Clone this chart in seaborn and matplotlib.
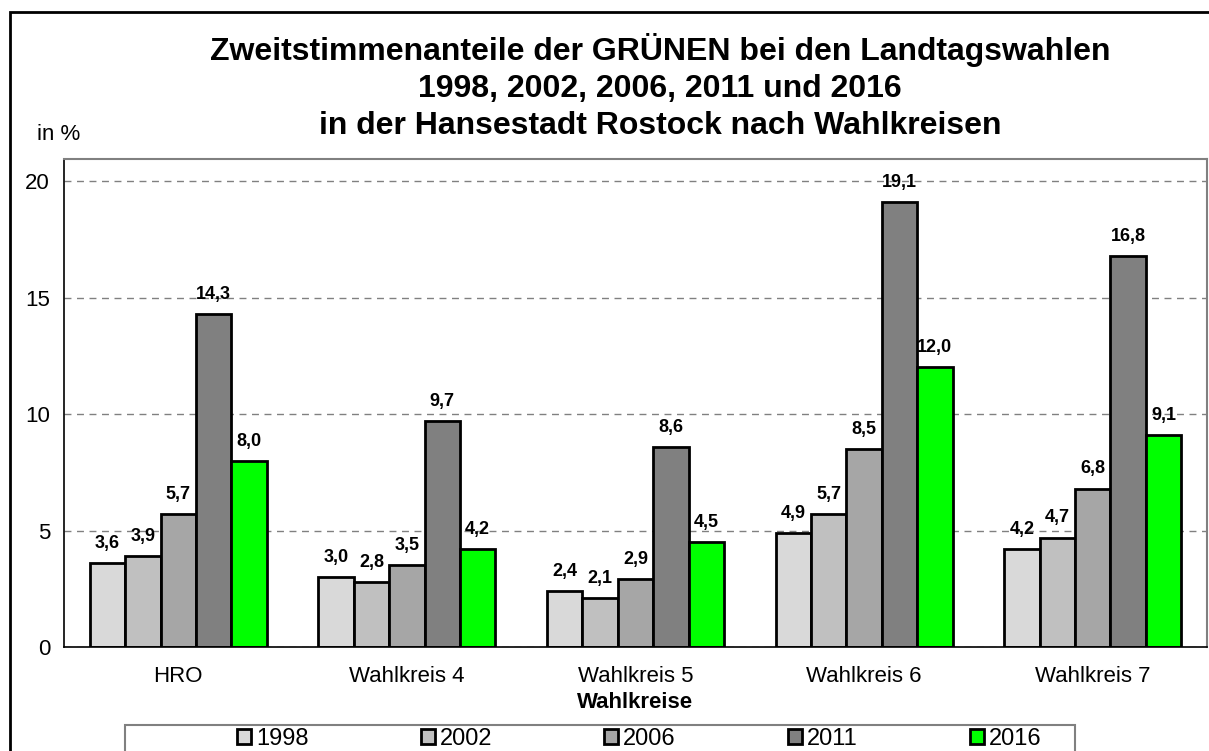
import pandas as pd
import seaborn as sns
import matplotlib.pyplot as plt
from matplotlib.patches import Rectangle

# Data
kreise = ['HRO', 'Wahlkreis 4', 'Wahlkreis 5', 'Wahlkreis 6', 'Wahlkreis 7']
jahre = ['1998', '2002', '2006', '2011', '2016']
w1998 = [3.6, 3.0, 2.4, 4.9, 4.2]
w2002 = [3.9, 2.8, 2.1, 5.7, 4.7]
w2006 = [5.7, 3.5, 2.9, 8.5, 6.8]
w2011 = [14.3, 9.7, 8.6, 19.1, 16.8]
w2016 = [8.0, 4.2, 4.5, 12.0, 9.1]
farben = ['#D9D9D9', '#C0C0C0', '#A6A6A6', '#808080', '#00FF00']

rows = []
for jahr, werte in zip(jahre, [w1998, w2002, w2006, w2011, w2016]):
    for k, v in zip(kreise, werte):
        rows.append({'Wahlkreis': k, 'Jahr': jahr, 'Anteil': v})
df = pd.DataFrame(rows)

sns.set_style('white')
plt.rcParams['font.family'] = ['Liberation Sans', 'DejaVu Sans']
plt.rcParams['text.color'] = 'black'
plt.rcParams['xtick.color'] = 'black'
plt.rcParams['ytick.color'] = 'black'
plt.rcParams['axes.labelcolor'] = 'black'

fig = plt.figure(figsize=(12.09, 7.51), dpi=100)
ax = fig.add_axes([64 / 1209, 1 - 647 / 751, (1207 - 64) / 1209, (647 - 159) / 751])

sns.barplot(data=df, x='Wahlkreis', y='Anteil', hue='Jahr', palette=farben,
            width=0.774, edgecolor='black', linewidth=2, saturation=1,
            legend=False, ax=ax)

# value labels
for cont in ax.containers:
    labels = [f"{b.get_height():.1f}".replace('.', ',') for b in cont]
    ax.bar_label(cont, labels=labels, padding=8, fontsize=13, fontweight='bold',
                 color='black', family=['Liberation Sans Narrow', 'Liberation Sans'])

ax.set_ylim(0, 20.95)
ax.set_xlim(-0.5, 4.5)
ax.set_yticks([0, 5, 10, 15, 20])
ax.yaxis.grid(True, linestyle=(0, (5, 4)), color='#808080', linewidth=1)
ax.set_axisbelow(True)
ax.tick_params(axis='y', direction='inout', length=8, color='black', labelsize=16, pad=6)
ax.set_xticks([-0.5, 0.5, 1.5, 2.5, 3.5, 4.5], minor=True)
ax.tick_params(axis='x', which='major', length=0, labelsize=16, pad=14)
ax.tick_params(axis='x', which='minor', direction='out', length=7, color='#808080')
ax.set_ylabel('')
ax.set_xlabel('Wahlkreise', fontsize=16, fontweight='bold', labelpad=3)

for s in ['left', 'bottom']:
    ax.spines[s].set_color('black')
    ax.spines[s].set_linewidth(1.2)
for s in ['top', 'right']:
    ax.spines[s].set_color('#808080')
    ax.spines[s].set_linewidth(1.5)

fig.text(660 / 1209, 1 - 33 / 751,
         'Zweitstimmenanteile der GRÜNEN bei den Landtagswahlen\n'
         '1998, 2002, 2006, 2011 und 2016\n'
         'in der Hansestadt Rostock nach Wahlkreisen',
         ha='center', va='top', fontsize=23, fontweight='bold', linespacing=1.3)
fig.text(37 / 1209, 1 - 135 / 751, 'in %', ha='left', va='center', fontsize=16)

# legend
handles = [Rectangle((0, 0), 1, 1, facecolor=c, edgecolor='black', linewidth=2) for c in farben]
fig.legend(handles, jahre, ncol=5, frameon=False, loc='center',
           bbox_to_anchor=(639 / 1209, 1 - 739 / 751), fontsize=17,
           handlelength=0.6, handleheight=0.6, handletextpad=0.2, columnspacing=4.75)
fig.patches.append(Rectangle((125 / 1209, -0.05), (1075 - 125) / 1209, 0.05 + (751 - 725) / 751,
                             transform=fig.transFigure, fill=False, edgecolor='#808080',
                             linewidth=1.5, clip_on=False))

# outer frame
fig.patches.append(Rectangle((10 / 1209, -0.05), 1.2, 0.05 + (751 - 12) / 751,
                             transform=fig.transFigure, fill=False, edgecolor='black',
                             linewidth=2, clip_on=False))

plt.savefig('out.png', dpi=100)
